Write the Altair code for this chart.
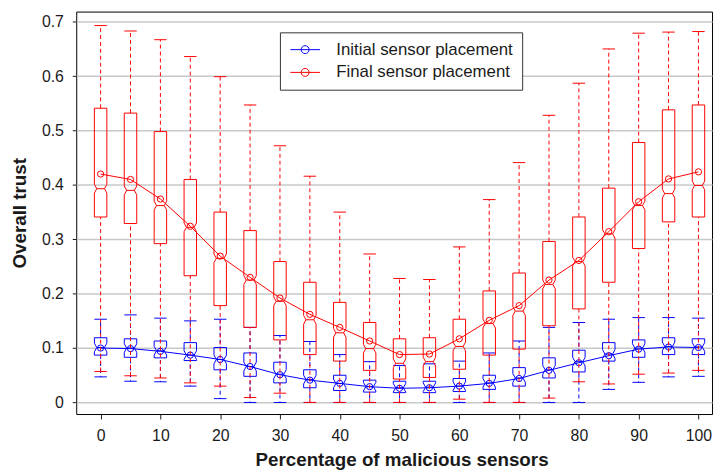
import altair as alt
import pandas as pd

# ---------------- data ----------------
xs = [0, 5, 10, 15, 20, 25, 30, 35, 40, 45, 50, 55, 60, 65, 70, 75, 80, 85, 90, 95, 100]
series_names = ["Initial sensor placement", "Final sensor placement"]

init_hi = [0.153, 0.161, 0.155, 0.150, 0.153, 0.138, 0.123, 0.112, 0.088, 0.075, 0.068,
           0.071, 0.076, 0.091, 0.113, 0.138, 0.147, 0.153, 0.156, 0.156, 0.155]
init_q3 = [0.119, 0.117, 0.113, 0.110, 0.101, 0.091, 0.074, 0.060, 0.050, 0.041, 0.039,
           0.039, 0.044, 0.050, 0.064, 0.082, 0.096, 0.110, 0.115, 0.119, 0.117]
init_med = [0.101, 0.100, 0.095, 0.087, 0.079, 0.066, 0.052, 0.042, 0.035, 0.029, 0.027,
            0.028, 0.030, 0.036, 0.045, 0.060, 0.075, 0.089, 0.100, 0.103, 0.102]
init_q1 = [0.087, 0.083, 0.082, 0.077, 0.060, 0.048, 0.036, 0.027, 0.022, 0.019, 0.018,
           0.018, 0.020, 0.024, 0.030, 0.045, 0.056, 0.076, 0.083, 0.088, 0.088]
init_lo = [0.047, 0.039, 0.038, 0.030, 0.007, 0.0, 0.0, 0.0, 0.0, 0.0, 0.0,
           0.0, 0.0, 0.0, 0.0, 0.0, 0.0, 0.024, 0.037, 0.047, 0.048]
init_mean = [0.100, 0.099, 0.094, 0.087, 0.079, 0.066, 0.051, 0.041, 0.035, 0.029, 0.026,
             0.027, 0.030, 0.035, 0.044, 0.059, 0.073, 0.086, 0.098, 0.102, 0.101]

final_hi = [0.693, 0.683, 0.667, 0.636, 0.599, 0.547, 0.472, 0.416, 0.350, 0.273, 0.228,
            0.226, 0.286, 0.373, 0.441, 0.528, 0.587, 0.650, 0.679, 0.681, 0.682]
final_q3 = [0.541, 0.532, 0.498, 0.410, 0.350, 0.316, 0.259, 0.221, 0.184, 0.147, 0.117,
            0.119, 0.153, 0.205, 0.238, 0.296, 0.341, 0.394, 0.478, 0.538, 0.547]
final_med = [0.393, 0.390, 0.362, 0.322, 0.265, 0.225, 0.186, 0.152, 0.128, 0.099, 0.072,
             0.075, 0.103, 0.145, 0.168, 0.217, 0.259, 0.310, 0.362, 0.384, 0.399]
final_q1 = [0.341, 0.329, 0.292, 0.233, 0.178, 0.138, 0.115, 0.088, 0.076, 0.059, 0.043,
            0.046, 0.061, 0.087, 0.098, 0.141, 0.172, 0.221, 0.283, 0.332, 0.341]
final_lo = [0.057, 0.049, 0.045, 0.036, 0.030, 0.009, 0.017, 0.0, 0.0, 0.0, 0.0,
            0.0, 0.006, 0.0, 0.0, 0.008, 0.038, 0.034, 0.052, 0.054, 0.059]
final_mean = [0.420, 0.410, 0.374, 0.324, 0.269, 0.230, 0.192, 0.162, 0.138, 0.113, 0.088,
              0.089, 0.117, 0.151, 0.178, 0.225, 0.261, 0.314, 0.369, 0.411, 0.424]

y_ticks = [0.0, 0.1, 0.2, 0.3, 0.4, 0.5, 0.6, 0.7]
x_ticks = [0, 10, 20, 30, 40, 50, 60, 70, 80, 90, 100]
colors = ["#0000ff", "#ff0000"]

# ---------------- styles ----------------
PLOT_W, PLOT_H = 643, 407
X_DOMAIN = [-4.08, 102.27]
Y_DOMAIN = [-0.0213, 0.7187]
HALF_W = 6.3      # box half width (px)
INSET = 2.4       # notch inset (px)
NOTCH = 0.008     # notch half height (data units)
FONT = "Liberation Sans"
PX_PER_UNIT = PLOT_W / (X_DOMAIN[1] - X_DOMAIN[0])

rows = []
for name, hi, q3, med, q1, lo, mean in [
    (series_names[0], init_hi, init_q3, init_med, init_q1, init_lo, init_mean),
    (series_names[1], final_hi, final_q3, final_med, final_q1, final_lo, final_mean),
]:
    for i, x in enumerate(xs):
        rows.append(dict(series=name, x=x, hi=hi[i], q3=q3[i], med=med[i],
                         q1=q1[i], lo=lo[i], mean=mean[i]))
stats = pd.DataFrame(rows)

# notched box outline (width given in pixels, converted to x units)
poly = []
for r in rows:
    verts = [(-HALF_W, r["q3"]), (-HALF_W, r["med"] + NOTCH), (-HALF_W + INSET, r["med"]),
             (-HALF_W, r["med"] - NOTCH), (-HALF_W, r["q1"]), (HALF_W, r["q1"]),
             (HALF_W, r["med"] - NOTCH), (HALF_W - INSET, r["med"]),
             (HALF_W, r["med"] + NOTCH), (HALF_W, r["q3"]), (-HALF_W, r["q3"])]
    for k, (dx, y) in enumerate(verts):
        poly.append(dict(series=r["series"], xp=r["x"] + dx / PX_PER_UNIT, y=y, k=k,
                         key=f'{r["series"]}-{r["x"]}'))
polydf = pd.DataFrame(poly)

xscale = alt.Scale(domain=X_DOMAIN, nice=False, zero=False)
yscale = alt.Scale(domain=Y_DOMAIN, nice=False, zero=False)
cscale = alt.Scale(domain=series_names, range=colors)

X = alt.X("x:Q", scale=xscale,
          axis=alt.Axis(values=x_ticks, title="Percentage of malicious sensors",
                        grid=False, tickSize=5, labelPadding=9,
                        titleX=329, titleY=37, titleBaseline="top"))
Y_AXIS = alt.Axis(values=y_ticks, format=".1~f", title="Overall trust", grid=True,
                  tickSize=4, labelPadding=9, titleX=-57, titleY=203.5,
                  titleBaseline="middle")

# legend glyph: line with an open circle (path spans +-1.95 of the symbol half-size)
legend_symbol = ("M-1.95,0H-0.52M0.52,0H1.95M-0.52,0A0.52,0.52 0 1,0 0.52,0"
                 "A0.52,0.52 0 1,0 -0.52,0M-0.52,0H0.52")

color_leg = alt.Color(
    "series:N", scale=cscale, sort=series_names,
    legend=alt.Legend(
        title=None, orient="none", legendX=206, legendY=21,
        symbolType=legend_symbol, symbolSize=237, symbolStrokeWidth=1,
        symbolFillColor="transparent", symbolOffset=8,
        labelOffset=23, rowPadding=5, labelLimit=400))

base = alt.Chart(stats)

# mean markers (the only layer with a colour encoding -> legend)
mean_pts = base.mark_point(filled=False, size=40, opacity=1, strokeWidth=1).encode(
    x=X, y=alt.Y("mean:Q", scale=yscale, axis=Y_AXIS), color=color_leg)

layers = [mean_pts]
for s_i, name in enumerate(series_names):
    col = colors[s_i]
    sub = base.transform_filter(alt.datum.series == name)
    dash_off = 0 if s_i == 1 else 3
    w_lo = sub.mark_rule(color=col, strokeDash=[4, 3], strokeDashOffset=dash_off,
                         strokeWidth=1).encode(x="x:Q", y="lo:Q", y2="q1:Q")
    w_hi = sub.mark_rule(color=col, strokeDash=[4, 3], strokeDashOffset=dash_off,
                         strokeWidth=1).encode(x="x:Q", y="q3:Q", y2="hi:Q")
    cap_hi = sub.mark_tick(color=col, orient="horizontal", size=2 * HALF_W, thickness=1,
                           opacity=1).encode(x="x:Q", y="hi:Q")
    cap_lo = sub.mark_tick(color=col, orient="horizontal", size=2 * HALF_W, thickness=1,
                           opacity=1).encode(x="x:Q", y="lo:Q")
    med_t = sub.mark_tick(color=col, orient="horizontal", size=2 * (HALF_W - INSET),
                          thickness=1, opacity=1).encode(x="x:Q", y="med:Q")
    box = alt.Chart(polydf).transform_filter(alt.datum.series == name).mark_line(
        color=col, strokeWidth=1).encode(
        x="xp:Q", y="y:Q", detail="key:N", order="k:Q")
    mline = sub.mark_line(color=col, strokeWidth=1).encode(x="x:Q", y="mean:Q")
    layers += [w_lo, w_hi, cap_hi, cap_lo, box, med_t, mline]

chart = alt.layer(*layers).properties(
    width=PLOT_W, height=PLOT_H,
    padding={"left": 69, "top": 1, "right": 2, "bottom": 55},
    autosize=alt.AutoSizeParams(type="none"),
).configure_view(
    stroke="black", strokeWidth=1
).configure_axis(
    domain=False, labelFont=FONT, labelFontSize=16, labelColor="#1a1a1a",
    titleFont=FONT, titleFontSize=19, titleFontWeight="bold", titleColor="#1a1a1a",
    tickColor="#1a1a1a", tickWidth=1, gridColor="#c8c8c8", gridWidth=1.5
).configure_legend(
    labelFont=FONT, labelFontSize=17, labelColor="#1a1a1a", strokeColor="#333333",
    fillColor="white", padding=9, cornerRadius=0
)

chart.save("out.html", embed_options={"renderer": "svg", "actions": False})
